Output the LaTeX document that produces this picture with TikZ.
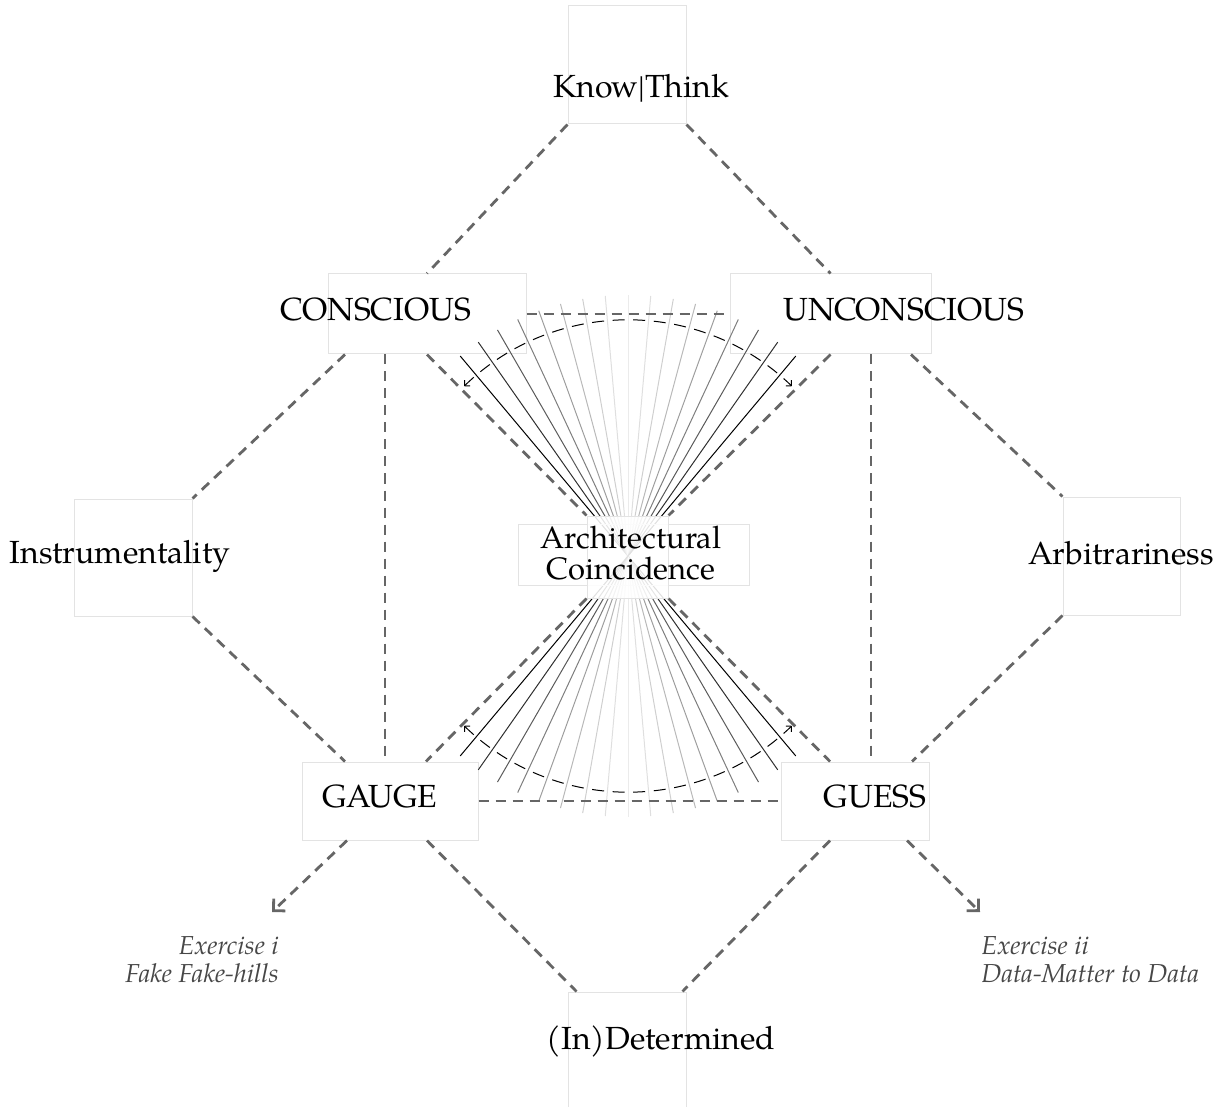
\documentclass[tikz,border=0pt]{standalone}
\usepackage{fontspec}
\setmainfont{TeX Gyre Pagella}
\usetikzlibrary{arrows.meta,calc}

\tikzset{
    frame/.style={draw=black!11, line width=0.5pt, inner sep=0pt},
    term/.style={font=\fontsize{16}{20}\selectfont, inner sep=0pt, anchor=base},
    link/.style={draw=black!60, line width=1.4pt, dash pattern=on 5pt off 3.5pt},
    exit/.style={link, -{Straight Barb[angle=90:6pt, sharp]}},
    note/.style={font=\fontsize{13}{14}\selectfont\itshape, text=black!72, inner sep=0pt},
    ray/.style={line width=0.5pt},
    sweep/.style={line width=0.5pt, dash pattern=on 6pt off 4.3pt,
        {Straight Barb[length=2pt, width=4pt]}-{Straight Barb[length=2pt, width=4pt]}}
}

\begin{document}
\begin{tikzpicture}[x=0.5pt, y=-0.5pt]
    \useasboundingbox (0,0) rectangle (1222,1107);

    % Frames
    \node[frame, minimum width=59pt, minimum height=59pt] (know) at (627,65) {};
    \node[frame, minimum width=99pt, minimum height=40pt] (conscious) at (427,314) {};
    \node[frame, minimum width=100.5pt, minimum height=40pt] (unconscious) at (830.5,314) {};
    \node[frame, minimum width=59pt, minimum height=58.5pt] (instr) at (133,557.5) {};
    \node[frame, minimum width=58.5pt, minimum height=59pt] (arbit) at (1121.5,556) {};
    \node[frame, minimum width=88pt, minimum height=39pt] (gauge) at (390,801) {};
    \node[frame, minimum width=74pt, minimum height=39pt] (guess) at (855,801) {};
    \node[frame, minimum width=59pt, minimum height=59pt] (indet) at (627,1051) {};

    % Fan
    \coordinate (ctr) at (628,556);
    \foreach \a in {-40,-35,...,40} {
        \pgfmathsetmacro\lvl{abs(\a)/40}
        \pgfmathsetmacro\tone{8+92*(0.3*\lvl+0.7*\lvl*\lvl)}
        \draw[ray, black!\tone] ($(ctr)+({\a-90}:261)$) -- ($(ctr)+({\a+90}:261)$);
    }
    \draw[sweep] ($(ctr)+(-134:236)$) arc[start angle=-134, end angle=-46, radius=236];
    \draw[sweep] ($(ctr)+(134:236)$) arc[start angle=134, end angle=46, radius=236];

    % Centre frames
    \node[frame, minimum width=115.5pt, minimum height=30.5pt] (arch) at (633.5,554.5) {};
    \node[frame, fill=white, fill opacity=0.88, minimum width=40.5pt, minimum height=41pt] (core) at (627.5,557) {};

    % Dashed links
    \draw[link] (know.south west) -- (conscious.north);
    \draw[link] (know.south east) -- (unconscious.north);
    \draw[link] (conscious.east) -- (unconscious.west);
    \draw[link] ($(conscious.south)+(-82,0)$) -- (instr.north east);
    \draw[link] ($(conscious.south)+(-42,0)$) -- ($(gauge.north)+(-5,0)$);
    \draw[link] (conscious.south) -- (core.north west);
    \draw[link] (unconscious.south) -- (core.north east);
    \draw[link] ($(unconscious.south)+(40.5,0)$) -- ($(guess.north)+(16,0)$);
    \draw[link] ($(unconscious.south)+(80.5,0)$) -- (arbit.north west);
    \draw[link] (instr.south east) -- ($(gauge.north)+(-45,0)$);
    \draw[link] (arbit.south west) -- ($(guess.north)+(57,0)$);
    \draw[link] (core.south west) -- ($(gauge.north)+(36,0)$);
    \draw[link] (core.south east) -- ($(guess.north)+(-25,0)$);
    \draw[link] (gauge.east) -- (guess.west);
    \draw[link] ($(gauge.south)+(37,0)$) -- ($(indet.north west)+(9,0)$);
    \draw[link] ($(guess.south)+(-25,0)$) -- ($(indet.north east)+(-4,0)$);

    % Exits
    \coordinate (tipi) at (272,912);
    \coordinate (tipii) at (980,912);
    \draw[exit] ($(gauge.south)+(-43,0)$) -- (tipi);
    \draw[exit] ($(guess.south)+(52,0)$) -- (tipii);

    % Labels
    \node[term] (knowtxt) at (641,98) {Know|Think};
    \node[term] (constxt) at (376,321) {CONSCIOUS};
    \node[term] (unctxt) at (904,321) {UNCONSCIOUS};
    \node[term] (instrtxt) at (120,563) {Instrumentality};
    \node[term] (arbtxt) at (1121,564) {Arbitrariness};
    \node[term] (gaugetxt) at (380,807) {GAUGE};
    \node[term] (guesstxt) at (875,807) {GUESS};
    \node[term] (indettxt) at (661,1049) {(In)Determined};
    \node[font=\fontsize{15.5}{15.5}\selectfont, align=center, inner sep=0pt] (archtxt) at (631,553) {Architectural\\Coincidence};
    \node[note, align=right, anchor=base east] (ex1) at (279,982) {Exercise i\\Fake Fake-hills};
    \node[note, align=left, anchor=base west] (ex2) at (981,982) {Exercise ii\\Data-Matter to Data};
\end{tikzpicture}
\end{document}
